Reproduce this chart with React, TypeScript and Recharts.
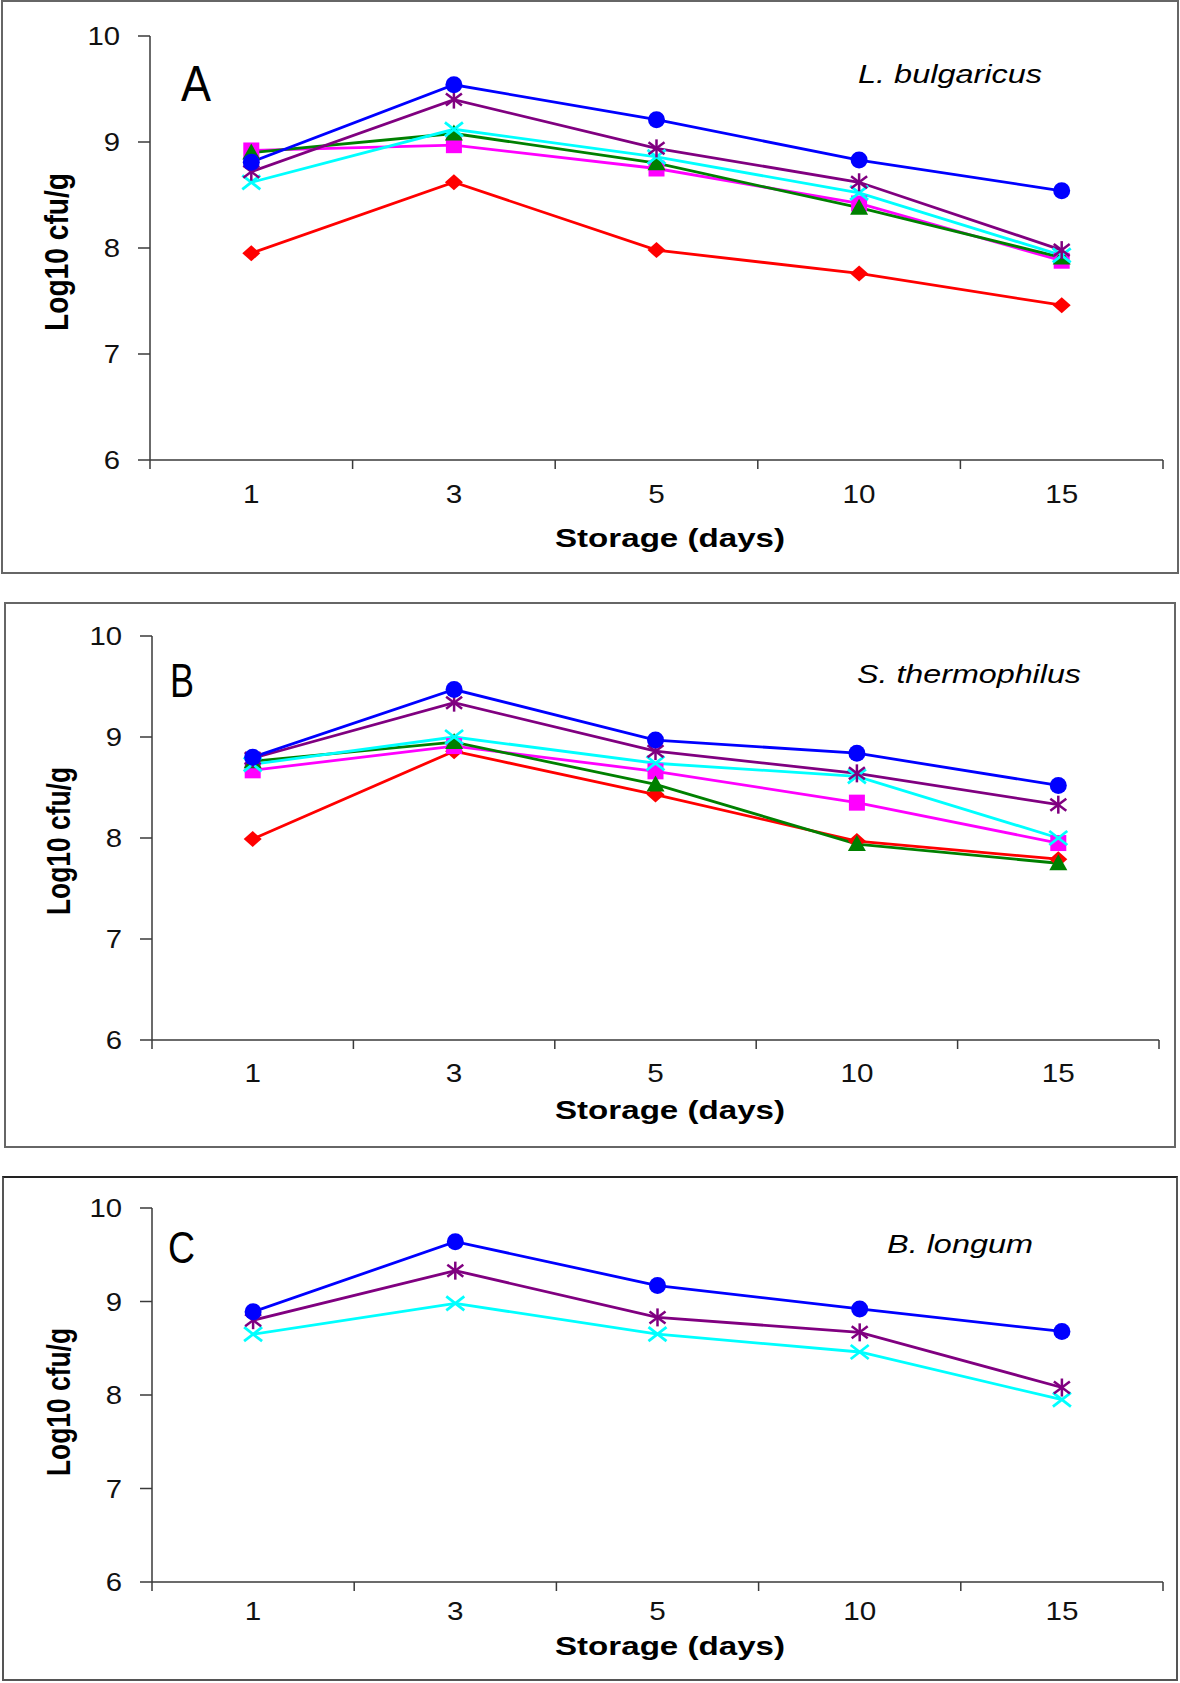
import React from 'react';
import { LineChart, Line, XAxis, YAxis } from 'recharts';

// ---------- data ----------
const days = ['1', '3', '5', '10', '15'];
const yTicks = [6, 7, 8, 9, 10];
const xTicks = [0, 0.5, 1, 1.5, 2, 2.5, 3, 3.5, 4, 4.5, 5];

// Panel A – L. bulgaricus
const aRed = [7.95, 8.62, 7.98, 7.76, 7.46];
const aMagenta = [8.92, 8.97, 8.75, 8.42, 7.88];
const aGreen = [8.9, 9.08, 8.8, 8.38, 7.91];
const aCyan = [8.62, 9.12, 8.86, 8.52, 7.93];
const aPurple = [8.72, 9.4, 8.94, 8.62, 7.98];
const aBlue = [8.81, 9.54, 9.21, 8.83, 8.54];

// Panel B – S. thermophilus
const bRed = [7.99, 8.86, 8.43, 7.97, 7.79];
const bMagenta = [8.67, 8.91, 8.66, 8.35, 7.95];
const bGreen = [8.76, 8.95, 8.53, 7.94, 7.75];
const bCyan = [8.73, 9.0, 8.74, 8.61, 8.0];
const bPurple = [8.79, 9.34, 8.86, 8.64, 8.33];
const bBlue = [8.8, 9.47, 8.97, 8.84, 8.52];

// Panel C – B. longum
const cCyan = [8.65, 8.98, 8.65, 8.46, 7.95];
const cPurple = [8.8, 9.33, 8.83, 8.67, 8.08];
const cBlue = [8.89, 9.64, 9.17, 8.92, 8.68];

type Kind = 'circle' | 'square' | 'triangle' | 'diamond' | 'x' | 'star';
type Series = { key: string; color: string; kind: Kind; values: number[] };

const RED = '#FF0000';
const MAGENTA = '#FF00FF';
const GREEN = '#008000';
const CYAN = '#00FFFF';
const PURPLE = '#800080';
const BLUE = '#0000FF';

const seriesA: Series[] = [
  { key: 'red', color: RED, kind: 'diamond', values: aRed },
  { key: 'magenta', color: MAGENTA, kind: 'square', values: aMagenta },
  { key: 'green', color: GREEN, kind: 'triangle', values: aGreen },
  { key: 'cyan', color: CYAN, kind: 'x', values: aCyan },
  { key: 'purple', color: PURPLE, kind: 'star', values: aPurple },
  { key: 'blue', color: BLUE, kind: 'circle', values: aBlue },
];
const seriesB: Series[] = [
  { key: 'red', color: RED, kind: 'diamond', values: bRed },
  { key: 'magenta', color: MAGENTA, kind: 'square', values: bMagenta },
  { key: 'green', color: GREEN, kind: 'triangle', values: bGreen },
  { key: 'cyan', color: CYAN, kind: 'x', values: bCyan },
  { key: 'purple', color: PURPLE, kind: 'star', values: bPurple },
  { key: 'blue', color: BLUE, kind: 'circle', values: bBlue },
];
const seriesC: Series[] = [
  { key: 'cyan', color: CYAN, kind: 'x', values: cCyan },
  { key: 'purple', color: PURPLE, kind: 'star', values: cPurple },
  { key: 'blue', color: BLUE, kind: 'circle', values: cBlue },
];

const FONT = '"Liberation Sans", Arial, Helvetica, sans-serif';
const AXIS = '#3a3a3a';

function buildRows(series: Series[]) {
  return days.map((d, i) => {
    const row: Record<string, number | string> = { pos: i + 0.5, day: d };
    series.forEach((s) => {
      row[s.key] = s.values[i];
    });
    return row;
  });
}

function Marker(props: any) {
  const { cx, cy, kind, color } = props;
  if (cx == null || cy == null) return null;
  switch (kind as Kind) {
    case 'circle':
      return <circle cx={cx} cy={cy} r={8.5} fill={color} />;
    case 'square':
      return <rect x={cx - 8} y={cy - 8} width={16} height={16} fill={color} />;
    case 'triangle':
      return <polygon points={`${cx},${cy - 9} ${cx + 9},${cy + 7} ${cx - 9},${cy + 7}`} fill={color} />;
    case 'diamond':
      return <polygon points={`${cx},${cy - 8} ${cx + 9},${cy} ${cx},${cy + 8} ${cx - 9},${cy}`} fill={color} />;
    case 'x':
      return (
        <g stroke={color} strokeWidth={2.8}>
          <line x1={cx - 9} y1={cy - 7} x2={cx + 9} y2={cy + 7} />
          <line x1={cx - 9} y1={cy + 7} x2={cx + 9} y2={cy - 7} />
        </g>
      );
    case 'star':
      return (
        <g stroke={color} strokeWidth={2.5}>
          <line x1={cx - 8} y1={cy - 6} x2={cx + 8} y2={cy + 6} />
          <line x1={cx - 8} y1={cy + 6} x2={cx + 8} y2={cy - 6} />
          <line x1={cx} y1={cy - 9} x2={cx} y2={cy + 9} />
        </g>
      );
  }
  return null;
}

type PanelCfg = {
  top: number;
  height: number;
  mt: number;
  mb: number;
  mr: number;
  yw: number;
  xLabelDy: number;
  series: Series[];
};

function XTick(props: any) {
  const { x, y, payload, dy } = props;
  const v = payload.value as number;
  if (Number.isInteger(v)) {
    return <line x1={x} y1={y} x2={x} y2={y + 9} stroke={AXIS} strokeWidth={1.5} />;
  }
  const label = days[Math.floor(v)];
  return (
    <text
      x={x}
      y={y + dy}
      textAnchor="middle"
      fontSize={26}
      fontFamily={FONT}
      fill="#111"
      textLength={label.length * 16.5}
      lengthAdjust="spacingAndGlyphs"
    >
      {label}
    </text>
  );
}

function YTick(props: any) {
  const { x, y, payload } = props;
  const label = String(payload.value);
  return (
    <g>
      <line x1={x - 12} y1={y} x2={x} y2={y} stroke={AXIS} strokeWidth={1.5} />
      <text
        x={x - 30}
        y={y + 9}
        textAnchor="end"
        fontSize={26}
        fontFamily={FONT}
        fill="#111"
        textLength={label.length * 16.3}
        lengthAdjust="spacingAndGlyphs"
      >
        {label}
      </text>
    </g>
  );
}

function Panel({ cfg }: { cfg: PanelCfg }) {
  const rows = buildRows(cfg.series);
  return (
    <div style={{ position: 'absolute', left: 0, top: cfg.top }}>
      <LineChart
        width={1180}
        height={cfg.height}
        data={rows}
        margin={{ top: cfg.mt, right: cfg.mr, bottom: cfg.mb, left: 0 }}
      >
        <XAxis
          dataKey="pos"
          type="number"
          domain={[0, 5]}
          ticks={xTicks}
          interval={0}
          height={100}
          tickSize={0}
          tickMargin={0}
          tickLine={false}
          axisLine={{ stroke: AXIS, strokeWidth: 1.5 }}
          tick={(p: any) => <XTick {...p} dy={cfg.xLabelDy} />}
        />
        <YAxis
          type="number"
          domain={[6, 10]}
          ticks={yTicks}
          interval={0}
          width={cfg.yw}
          tickSize={0}
          tickMargin={0}
          tickLine={false}
          axisLine={{ stroke: AXIS, strokeWidth: 1.5 }}
          tick={(p: any) => <YTick {...p} />}
        />
        {cfg.series.map((s) => (
          <Line
            key={s.key}
            dataKey={s.key}
            type="linear"
            stroke={s.color}
            strokeWidth={2.8}
            isAnimationActive={false}
            activeDot={false}
            dot={(p: any) => <Marker key={`${s.key}-${p.index}`} cx={p.cx} cy={p.cy} kind={s.kind} color={s.color} />}
          />
        ))}
      </LineChart>
    </div>
  );
}

const panelA: PanelCfg = { top: 0, height: 575, mt: 36, mb: 15, mr: 17, yw: 150, xLabelDy: 43, series: seriesA };
const panelB: PanelCfg = { top: 600, height: 550, mt: 36, mb: 10, mr: 21, yw: 152, xLabelDy: 42, series: seriesB };
const panelC: PanelCfg = { top: 1175, height: 508, mt: 33, mb: 1, mr: 17, yw: 152, xLabelDy: 38, series: seriesC };

function YTitle({ x, y, len }: { x: number; y: number; len: number }) {
  return (
    <text
      transform={`translate(${x},${y}) scale(1.35,1) rotate(-90)`}
      textAnchor="middle"
      fontSize={24}
      fontWeight="bold"
      fontFamily={FONT}
      fill="#000"
      textLength={len}
      lengthAdjust="spacingAndGlyphs"
    >
      Log10 cfu/g
    </text>
  );
}

function XTitle({ y }: { y: number }) {
  return (
    <text
      x={555}
      y={y}
      fontSize={25}
      fontWeight="bold"
      fontFamily={FONT}
      fill="#000"
      textLength={230}
      lengthAdjust="spacingAndGlyphs"
    >
      Storage (days)
    </text>
  );
}

function Species({ x, y, len, text }: { x: number; y: number; len: number; text: string }) {
  return (
    <text
      x={x}
      y={y}
      fontSize={26}
      fontStyle="italic"
      fontFamily={FONT}
      fill="#000"
      textLength={len}
      lengthAdjust="spacingAndGlyphs"
    >
      {text}
    </text>
  );
}

function Letter({ x, y, len, size, text }: { x: number; y: number; len: number; size: number; text: string }) {
  return (
    <text
      x={x}
      y={y}
      fontSize={size}
      fontFamily={FONT}
      fill="#000"
      textLength={len}
      lengthAdjust="spacingAndGlyphs"
    >
      {text}
    </text>
  );
}

export default function App() {
  return (
    <div
      style={{
        position: 'absolute',
        left: 0,
        top: 0,
        width: 1180,
        height: 1683,
        background: '#fff',
        overflow: 'hidden',
      }}
    >
      <div style={{ position: 'absolute', left: 1, top: 0, width: 1178, height: 574, border: '2px solid #666', boxSizing: 'border-box' }} />
      <div style={{ position: 'absolute', left: 4, top: 602, width: 1172, height: 546, border: '2px solid #666', boxSizing: 'border-box' }} />
      <div style={{ position: 'absolute', left: 2, top: 1176, width: 1176, height: 505, border: '2px solid #555', borderTop: '2px solid #222', boxSizing: 'border-box' }} />

      <Panel cfg={panelA} />
      <Panel cfg={panelB} />
      <Panel cfg={panelC} />

      <svg width={1180} height={1683} style={{ position: 'absolute', left: 0, top: 0, pointerEvents: 'none' }}>
        <Letter x={181} y={101} len={30} size={50} text="A" />
        <Species x={858} y={83} len={184} text="L. bulgaricus" />
        <XTitle y={547} />
        <YTitle x={68} y={252} len={158} />

        <Letter x={170} y={697} len={24} size={48} text="B" />
        <Species x={857} y={683} len={224} text="S. thermophilus" />
        <XTitle y={1119} />
        <YTitle x={70} y={841} len={148} />

        <Letter x={168} y={1263} len={27} size={45} text="C" />
        <Species x={887} y={1253} len={146} text="B. longum" />
        <XTitle y={1655} />
        <YTitle x={70} y={1402} len={148} />
      </svg>
    </div>
  );
}
